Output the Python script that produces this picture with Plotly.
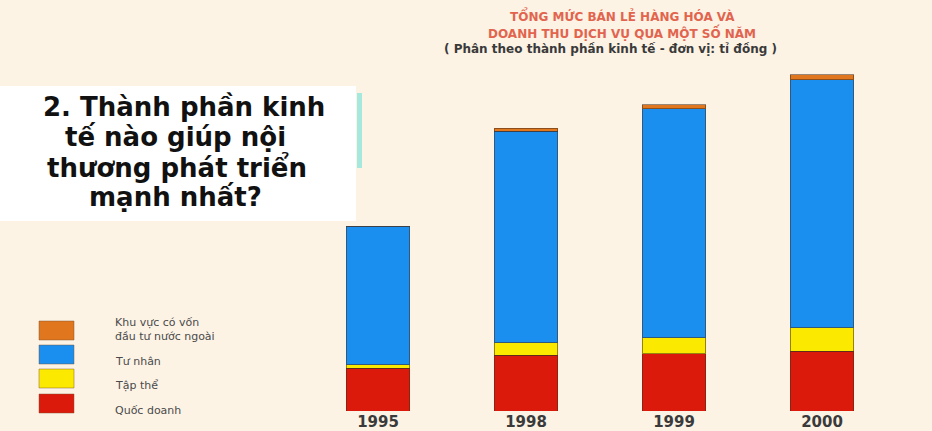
import plotly.graph_objects as go

# ---------------- data ----------------
years = ["1995", "1998", "1999", "2000"]
quoc_doanh = [28000, 36700, 37500, 39350]      # red
tap_the = [2500, 8200, 10700, 15100]           # yellow
tu_nhan = [90660, 138698, 150200, 162720]      # blue
nuoc_ngoai = [0, 2000, 2523, 3240]             # orange (foreign invested)
total_labels = ["1160", "185598", "200923", "220410"]

series_names = ["Quốc doanh", "Tập thể", "Tư nhân", "Khu vực có vốn đầu tư nước ngoài"]
legend_lines = [["Khu vực có vốn", "đầu tư nước ngoài"], ["Tư nhân"], ["Tập thể"], ["Quốc doanh"]]
title_lines = ["TỔNG MỨC BÁN LẺ HÀNG HÓA VÀ", "DOANH THU DỊCH VỤ QUA MỘT SỐ NĂM",
               "( Phân theo thành phần kinh tế - đơn vị: tỉ đồng )"]
question_lines = ["2. Thành phần kinh", "tế nào giúp nội", "thương phát triển", "mạnh nhất?"]

# ---------------- style ----------------
W, H = 932, 431
PLOT_H = 411
BG = "#fcf3e5"
C_RED = "#dc1a0c"
C_YEL = "#fbe900"
C_BLUE = "#1a8ff0"
C_ORA = "#e0761e"
EDGE = "rgba(70,45,30,0.55)"
FONT = "DejaVu Sans"

def X(px):
    return px / W

def Y(py):
    return (PLOT_H - py) / PLOT_H

fig = go.Figure()
for vals, name, col in [(quoc_doanh, series_names[0], C_RED),
                        (tap_the, series_names[1], C_YEL),
                        (tu_nhan, series_names[2], C_BLUE),
                        (nuoc_ngoai, series_names[3], C_ORA)]:
    fig.add_trace(go.Bar(x=years, y=vals, name=name, width=0.43,
                         marker=dict(color=col, line=dict(color=EDGE, width=1)),
                         hoverinfo="x+y+name"))

totals = [a + b + c + d for a, b, c, d in zip(quoc_doanh, tap_the, tu_nhan, nuoc_ngoai)]
annotations = []
for yr, tot, lab in zip(years, totals, total_labels):
    annotations.append(dict(x=yr, y=tot, xref="x", yref="y", text=lab, showarrow=False,
                            yanchor="bottom", yshift=2,
                            font=dict(family=FONT, size=14, color="#e07a45", weight="bold")))

# title
for txt, cx, cy, size, col in [(title_lines[0], 622, 16, 12, "#e2644e"),
                               (title_lines[1], 622, 32, 12, "#e2644e"),
                               (title_lines[2], 610, 49, 12, "#3a3a3a")]:
    annotations.append(dict(x=X(cx), y=Y(cy), xref="paper", yref="paper", text=txt,
                            showarrow=False, xanchor="center", yanchor="middle",
                            font=dict(family=FONT, size=size, color=col, weight="bold")))

# question box
shapes = [dict(type="rect", xref="paper", yref="paper", x0=X(0), x1=X(356), y0=Y(221), y1=Y(86),
               fillcolor="#ffffff", line=dict(width=0), layer="below"),
          dict(type="rect", xref="paper", yref="paper", x0=X(357), x1=X(362), y0=Y(168), y1=Y(93),
               fillcolor="#8fe6dc", line=dict(width=0), opacity=0.8, layer="above")]
for txt, cx, cy in zip(question_lines, [184, 175, 177, 175], [107, 137, 167, 197]):
    annotations.append(dict(x=X(cx), y=Y(cy), xref="paper", yref="paper", text=txt,
                            showarrow=False, xanchor="center", yanchor="middle",
                            font=dict(family=FONT, size=26, color="#111111", weight="bold")))

# custom legend
legend_cols = [C_ORA, C_BLUE, C_YEL, C_RED]
sq_tops = [321, 345, 369, 394]
text_ys = [[322, 336], [361], [385], [410]]
for col, top, lines, tys in zip(legend_cols, sq_tops, legend_lines, text_ys):
    shapes.append(dict(type="rect", xref="paper", yref="paper", x0=X(39), x1=X(74),
                       y0=Y(top + 19), y1=Y(top), fillcolor=col,
                       line=dict(color="rgba(120,80,40,0.45)", width=1)))
    for ln, ty in zip(lines, tys):
        annotations.append(dict(x=X(113), y=Y(ty), xref="paper", yref="paper", text=ln,
                                showarrow=False, xanchor="left", yanchor="middle",
                                font=dict(family=FONT, size=11, color="#4a4a4a")))

fig.update_layout(
    width=W, height=H, barmode="stack", showlegend=False,
    margin=dict(l=0, r=0, t=0, b=H - PLOT_H, pad=0, autoexpand=False),
    paper_bgcolor=BG, plot_bgcolor="rgba(0,0,0,0)",
    xaxis=dict(type="category", range=[-2.554, 3.743], showgrid=False, zeroline=False,
               showline=False, ticks="", ticklen=0, automargin=False,
               tickfont=dict(family=FONT, size=15, color="#3a3a3a", weight="bold")),
    yaxis=dict(range=[0, 269600], visible=False, showgrid=False, zeroline=False),
    annotations=annotations, shapes=shapes,
)

fig.write_html("out.html")
